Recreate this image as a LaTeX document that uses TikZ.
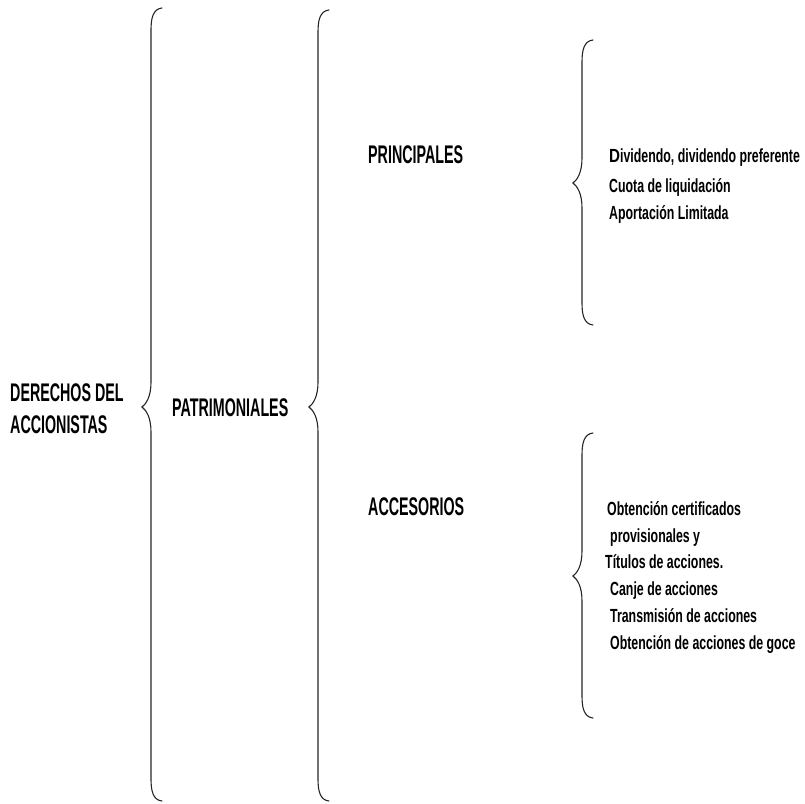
\documentclass[tikz,border=0pt]{standalone}
\usepackage{fontspec}
\setmainfont{Liberation Sans}
\newfontfamily\headfam{Liberation Sans}[FakeStretch=0.56]
\newfontfamily\bodyfam{Liberation Sans}[FakeStretch=0.65]
\newfontfamily\widefam{Liberation Sans}[FakeStretch=0.8]
\newcommand\myhead{\headfam\fontsize{25.5}{28}\selectfont\bfseries}
\newcommand\myitem{\bodyfam\fontsize{19}{22}\selectfont\bfseries}
\tikzset{
  head/.style={font=\myhead, anchor=base west, inner sep=0pt},
  item/.style={font=\myitem, anchor=base west, inner sep=0pt},
  bracestroke/.style={line width=1.1pt, draw=black!85, line cap=round},
}
\begin{document}
\begin{tikzpicture}[x=1pt,y=-1pt]
\useasboundingbox (0,0) rectangle (805,803);
% braces: xl, top, mid, bottom
\foreach \xl/\tp/\md/\bt in {151/8/407/801, 318/10/407/801, 582/40/183/325, 582/433/576/718}{
  \draw[bracestroke] (\xl+11,\tp) .. controls (\xl+2,\tp+1) and (\xl,\tp+10) .. (\xl,\tp+22)
    -- (\xl,\md-25) .. controls (\xl,\md-10) and (\xl-5,\md-3) .. (\xl-9,\md)
    .. controls (\xl-5,\md+3) and (\xl,\md+10) .. (\xl,\md+25)
    -- (\xl,\bt-22) .. controls (\xl,\bt-10) and (\xl+2,\bt-1) .. (\xl+11,\bt);
}
\node[head] (der1) at (10,401) {DERECHOS DEL};
\node[head] (der2) at (10,433) {ACCIONISTAS};
\node[head] (pat) at (172,416) {PATRIMONIALES};
\node[head] (pri) at (368,163) {PRINCIPALES};
\node[head] (acc) at (368,515) {ACCESORIOS};
\node[item] (p1) at (609,162) {{\widefam\bfseries D}ividendo, dividendo preferente};
\node[item] (p2) at (609,192) {Cuota de liquidación};
\node[item] (p3) at (609,219) {Aportación Limitada};
\node[item] (a1) at (607,515) {Obtención certificados};
\node[item] (a2) at (610,542) {provisionales y};
\node[item] (a3) at (605,568) {Títulos de acciones.};
\node[item] (a4) at (610,595) {Canje de acciones};
\node[item] (a5) at (610,622) {Transmisión de acciones};
\node[item] (a6) at (610,649) {Obtención de acciones de goce};
\end{tikzpicture}
\end{document}
